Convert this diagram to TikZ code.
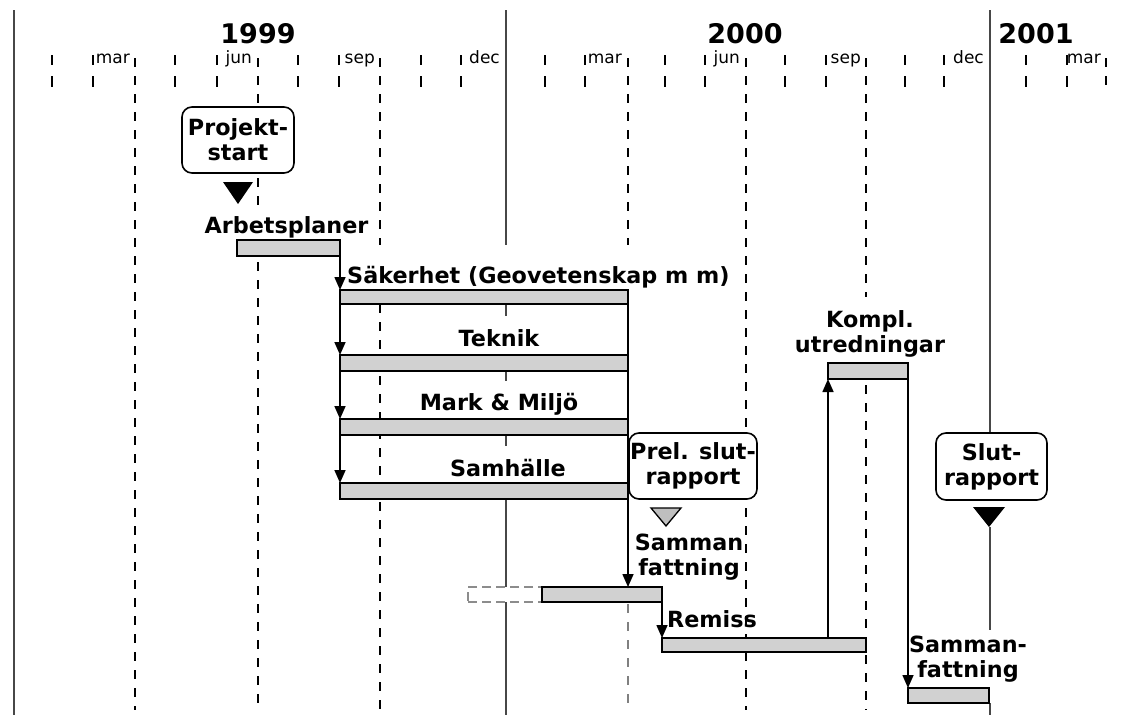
\documentclass[tikz,border=0pt]{standalone}
\usepackage{fontspec}
\setmainfont{DejaVu Sans}
\newfontfamily\lblfont{DejaVu Sans Bold}
\usetikzlibrary{arrows.meta,calc}
\begin{document}
\begin{tikzpicture}[x=1pt,y=-1pt,
  yearline/.style={line width=2.6pt, draw=black!72},
  qline/.style={line width=2.2pt, dash pattern=on 9pt off 9pt},
  tickline/.style={line width=2.2pt},
  bar/.style={draw=black, line width=1.5pt, fill=black!18, inner sep=0pt, outer sep=0pt},
  extbar/.style={draw=black!45, line width=1.5pt, dash pattern=on 9pt off 5pt, fill=white, inner sep=0pt, outer sep=0pt},
  lbl/.style={font=\lblfont\fontsize{22.3}{25}\selectfont, inner sep=0pt},
  rbox/.style={draw, line width=1.6pt, rounded corners=10pt, fill=white, align=center, inner sep=0pt, font=\lblfont\fontsize{22.3}{25}\selectfont},
  mlbl/.style={font=\fontsize{17}{18}\selectfont, inner sep=0pt, anchor=base east},
  ylbl/.style={font=\lblfont\fontsize{27}{30}\selectfont, inner sep=0pt, anchor=base},
  conn/.style={line width=1.6pt, -{Triangle[width=11pt,length=13pt]}},
  plain/.style={line width=1.6pt}
]
\useasboundingbox (0,0) rectangle (1125,715);

% ---------- year lines ----------
\draw[yearline] (14,10) -- (14,715);
\foreach \a/\b in {10/245, 304/316, 371/381, 435/446, 499/587, 602/715}
  \draw[yearline] (506,\a) -- (506,\b);
\foreach \a/\b in {10/433, 527/630, 703/715}
  \draw[yearline] (990,\a) -- (990,\b);

% ---------- month ticks ----------
\foreach \x in {52,93,175,217,298,339,421,461,545,585,665,705,785,826,905,944,1026,1067}
  {\draw[tickline] (\x,55) -- (\x,65); \draw[tickline] (\x,76) -- (\x,87);}

% ---------- quarter lines ----------
\draw[qline] (135,58) -- (135,710);
\foreach \a/\b in {58/106, 178/212, 262/710} \draw[qline] (258,\a) -- (258,\b);
\draw[qline] (380,58) -- (380,245);
\draw[qline] (380,304) -- (380,710);
\draw[qline] (628,58) -- (628,245);
\draw[qline, draw=black!50] (628,604) -- (628,710);
\draw[qline] (746,58) -- (746,710);
\draw[qline] (866,58) -- (866,297);
\draw[qline] (866,385) -- (866,710);
\draw[qline] (1106,58) -- (1106,90);

% ---------- header labels ----------
\node[ylbl] (y1999) at (258,43) {1999};
\node[ylbl] (y2000) at (745,43) {2000};
\node[ylbl] (y2001) at (1036,43) {2001};
\node[mlbl] (m1) at (130,63) {mar};
\node[mlbl] (m2) at (252,63) {jun};
\node[mlbl] (m3) at (375,63) {sep};
\node[mlbl] (m4) at (500,63) {dec};
\node[mlbl] (m5) at (622,63) {mar};
\node[mlbl] (m6) at (740,63) {jun};
\node[mlbl] (m7) at (861,63) {sep};
\node[mlbl] (m8) at (984,63) {dec};
\node[mlbl] (m9) at (1101,63) {mar};

% ---------- milestones ----------
\node[rbox, minimum width=112pt, minimum height=66pt] (pstart) at (238,140) {Projekt-\\start};
\fill (223,182) -- (253,182) -- (238,204) -- cycle;
\node[rbox, minimum width=128pt, minimum height=66pt] (prel) at (693,466) {Prel. slut-\\rapport};
\filldraw[fill=black!25, line width=1.3pt] (651,508) -- (681,508) -- (666,526) -- cycle;
\node[rbox, minimum width=111pt, minimum height=67pt] (slut) at (991.5,466.5) {Slut-\\rapport};
\fill (973,507) -- (1005,507) -- (989,527) -- cycle;

% ---------- bars ----------
\node[bar, minimum width=103pt, minimum height=16pt] (arb) at (288.5,248) {};
\node[bar, minimum width=288pt, minimum height=14pt] (sak) at (484,297) {};
\node[bar, minimum width=288pt, minimum height=16pt] (tek) at (484,363) {};
\node[bar, minimum width=288pt, minimum height=16pt] (mark) at (484,427) {};
\node[bar, minimum width=288pt, minimum height=16pt] (samh) at (484,491) {};
\node[extbar, minimum width=74pt, minimum height=15pt] (sfext) at (505,594.5) {};
\node[bar, minimum width=120pt, minimum height=15pt] (sf1) at (602,594.5) {};
\node[bar, minimum width=204pt, minimum height=14pt] (rem) at (764,645) {};
\node[bar, minimum width=80pt, minimum height=16pt] (komp) at (868,371) {};
\node[bar, minimum width=81pt, minimum height=15pt] (sf2) at (948.5,695.5) {};

% ---------- bar labels ----------
\node[lbl, anchor=base] (arbl) at (286.5,233) {Arbetsplaner};
\node[lbl, anchor=base west] (sakl) at (347,283) {Säkerhet (Geovetenskap m m)};
\node[lbl, anchor=base] (tekl) at (499,346) {Teknik};
\node[lbl, anchor=base] (markl) at (499,410) {Mark \& Miljö};
\node[lbl, anchor=base] (samhl) at (508,476) {Samhälle};
\node[lbl, align=center] (sf1l) at (689,557) {Samman\\fattning};
\node[lbl, anchor=base west] (reml) at (667,627) {Remiss};
\node[lbl, align=center] (kompl) at (870,333.5) {Kompl.\\utredningar};
\node[lbl, align=center] (sf2l) at (968,659) {Samman-\\fattning};

% ---------- connectors ----------
\draw[conn] (arb.south east) -- (arb.south east |- sak.north);
\draw[conn] (sak.south west) -- (tek.north west);
\draw[conn] (tek.south west) -- (mark.north west);
\draw[conn] (mark.south west) -- (samh.north west);
\draw[plain] (sak.south east) -- (samh.north east);
\draw[conn] (samh.south east) -- (samh.south east |- sf1.north);
\draw[conn] (sf1.south east) -- (rem.north west);
\draw[conn] (rem.north -| komp.south west) -- (komp.south west);
\draw[conn] (komp.south east) -- (sf2.north west);
\end{tikzpicture}
\end{document}
